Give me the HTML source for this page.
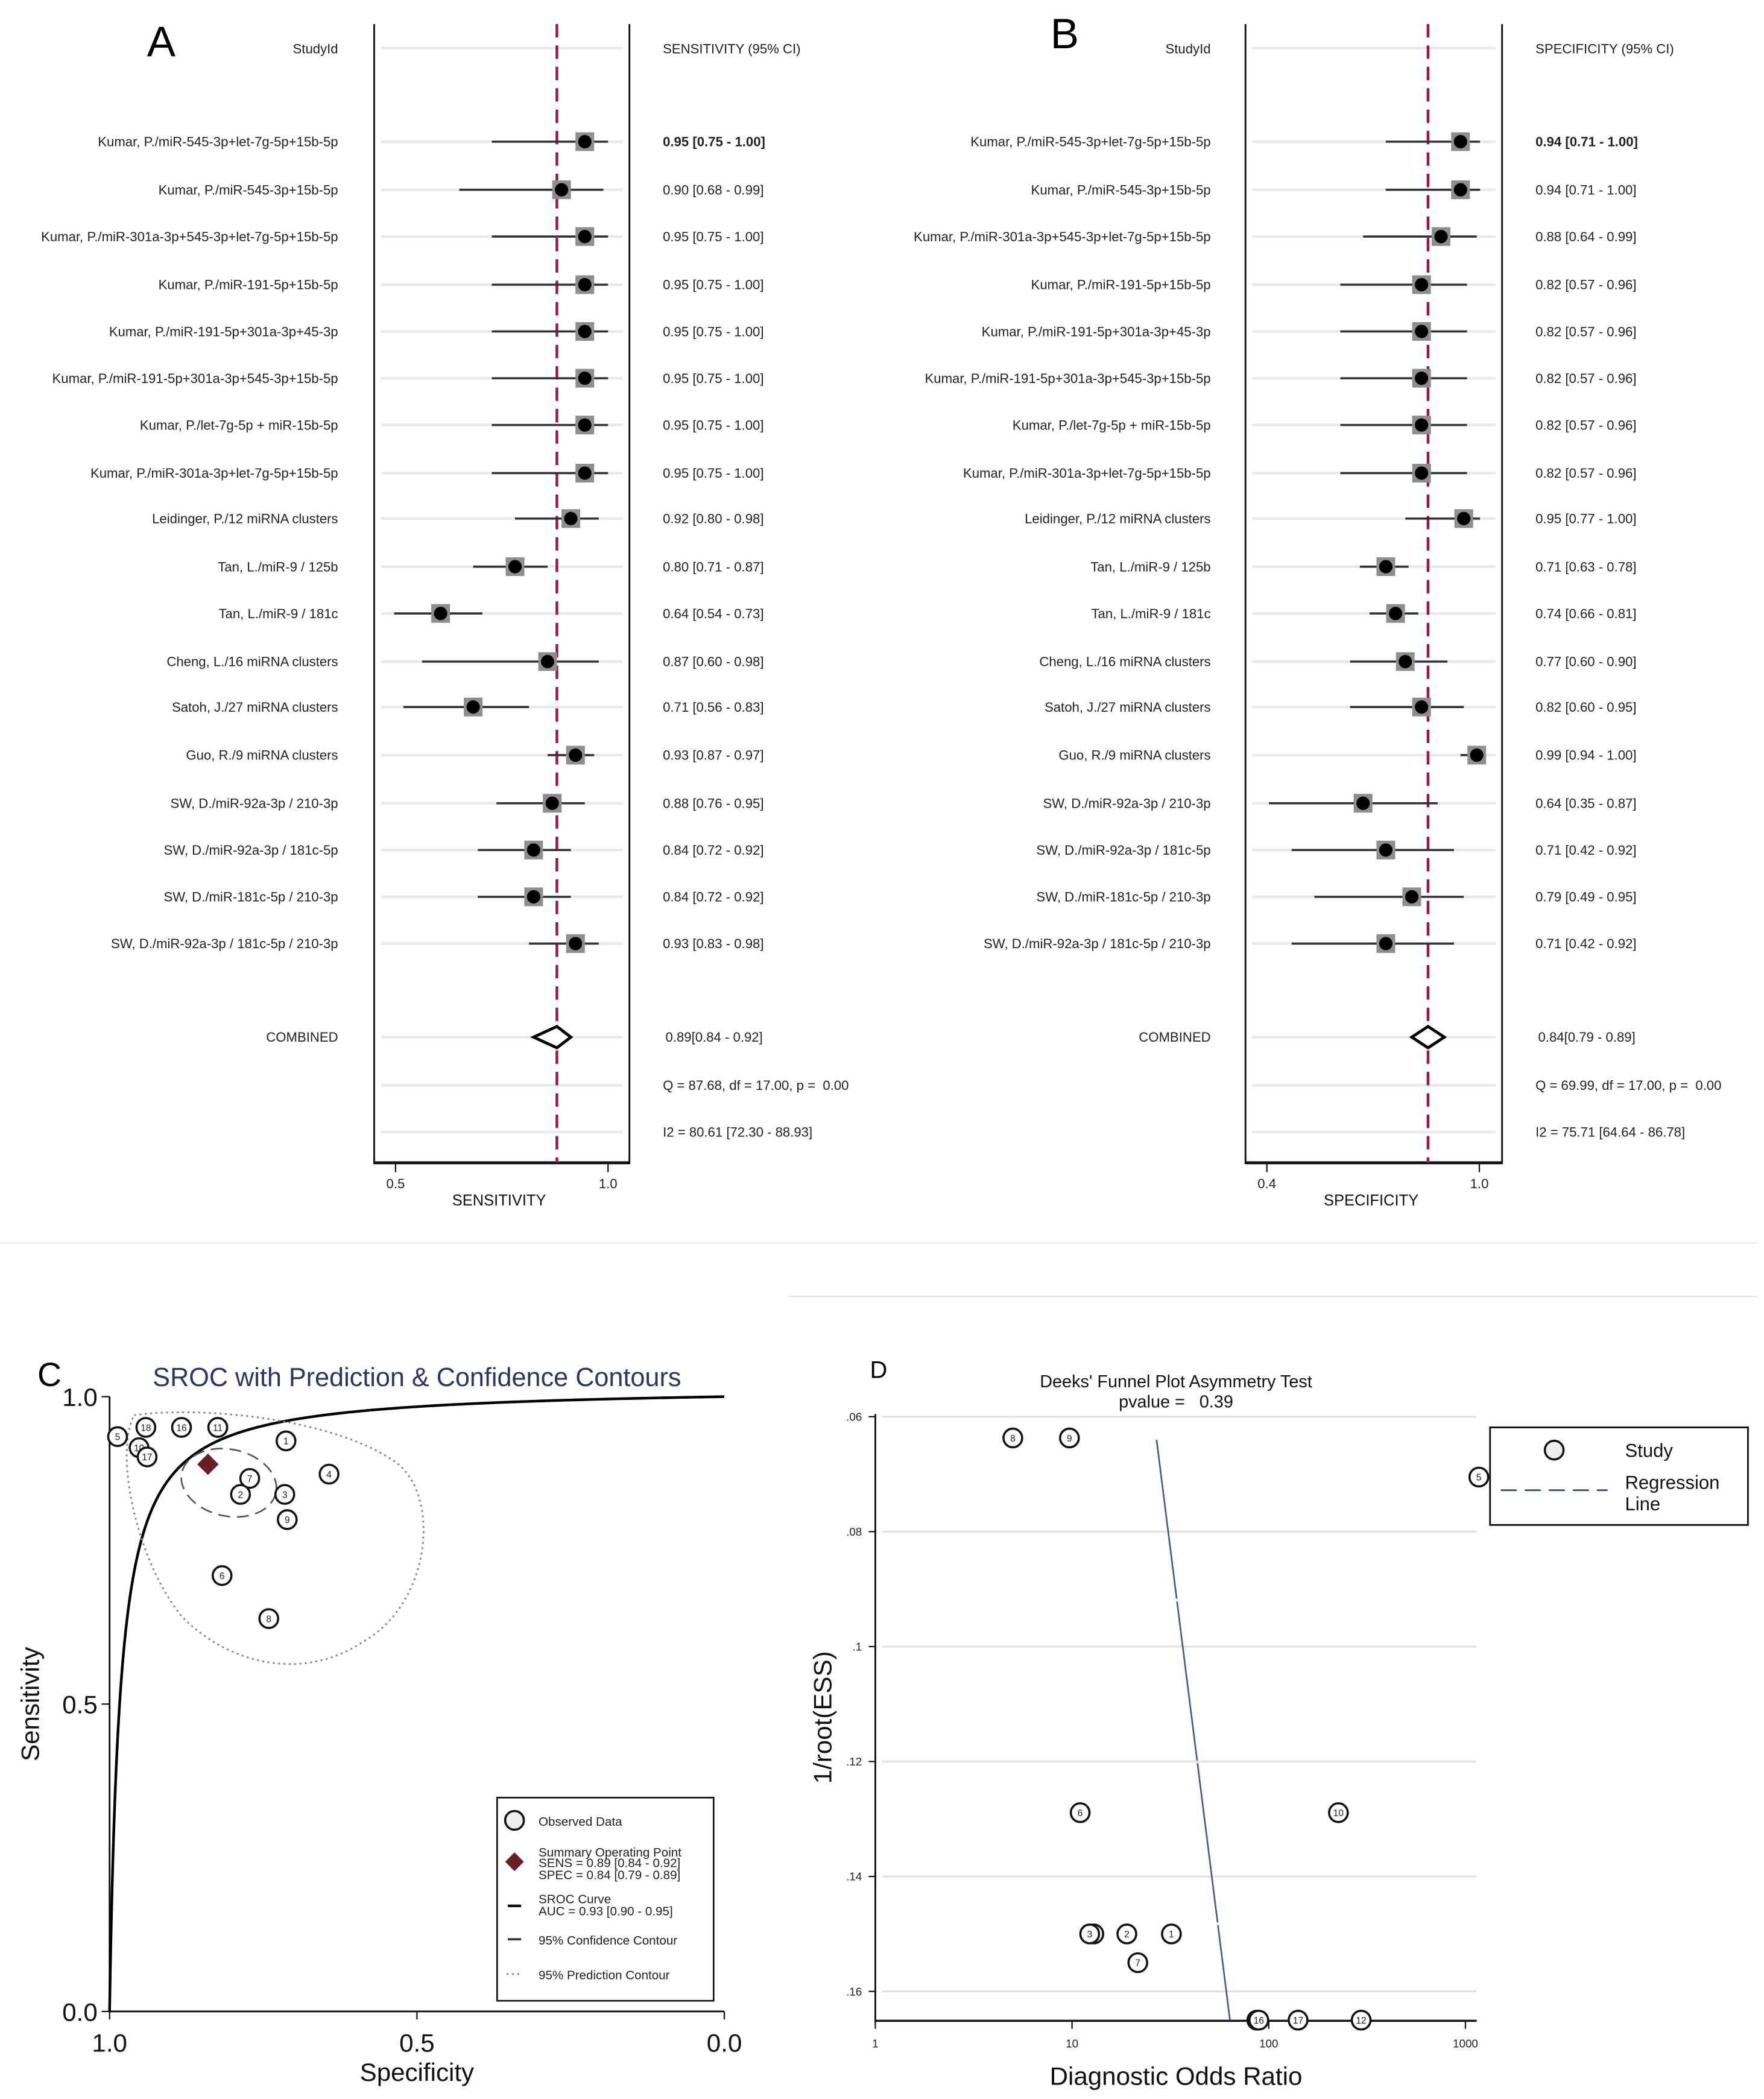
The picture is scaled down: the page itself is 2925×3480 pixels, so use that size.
<!DOCTYPE html>
<html><head><meta charset="utf-8"><style>
html,body{margin:0;padding:0;background:#fff;}
svg{display:block;}
text{font-family:"Liberation Sans Narrow","Liberation Sans",sans-serif;}
</style></head>
<body>
<svg id="fig" xmlns="http://www.w3.org/2000/svg" width="2925" height="3480" viewBox="0 0 1320 1570.5" preserveAspectRatio="none">
<rect x="0" y="0" width="1320" height="1571" fill="#fff"/>
<line x1="0" y1="930" x2="1315" y2="930" stroke="#eee" stroke-width="1"/>
<line x1="590" y1="970" x2="1315" y2="970" stroke="#e6e6e6" stroke-width="1"/>
<g id="pa"></g>
<g id="pb"></g>
<g id="pc"></g>
<g id="pd"></g>
</svg>
<script>
// ---------- Data ----------
const studyLabels = ["Kumar, P./miR-545-3p+let-7g-5p+15b-5p","Kumar, P./miR-545-3p+15b-5p","Kumar, P./miR-301a-3p+545-3p+let-7g-5p+15b-5p","Kumar, P./miR-191-5p+15b-5p","Kumar, P./miR-191-5p+301a-3p+45-3p","Kumar, P./miR-191-5p+301a-3p+545-3p+15b-5p","Kumar, P./let-7g-5p + miR-15b-5p","Kumar, P./miR-301a-3p+let-7g-5p+15b-5p","Leidinger, P./12 miRNA clusters","Tan, L./miR-9 / 125b","Tan, L./miR-9 / 181c","Cheng, L./16 miRNA clusters","Satoh, J./27 miRNA clusters","Guo, R./9 miRNA clusters","SW, D./miR-92a-3p / 210-3p","SW, D./miR-92a-3p / 181c-5p","SW, D./miR-181c-5p / 210-3p","SW, D./miR-92a-3p / 181c-5p / 210-3p"];
const sensEst = [0.95,0.90,0.95,0.95,0.95,0.95,0.95,0.95,0.92,0.80,0.64,0.87,0.71,0.93,0.88,0.84,0.84,0.93];
const sensLo  = [0.75,0.68,0.75,0.75,0.75,0.75,0.75,0.75,0.80,0.71,0.54,0.60,0.56,0.87,0.76,0.72,0.72,0.83];
const sensHi  = [1.00,0.99,1.00,1.00,1.00,1.00,1.00,1.00,0.98,0.87,0.73,0.98,0.83,0.97,0.95,0.92,0.92,0.98];
const specEst = [0.94,0.94,0.88,0.82,0.82,0.82,0.82,0.82,0.95,0.71,0.74,0.77,0.82,0.99,0.64,0.71,0.79,0.71];
const specLo  = [0.71,0.71,0.64,0.57,0.57,0.57,0.57,0.57,0.77,0.63,0.66,0.60,0.60,0.94,0.35,0.42,0.49,0.42];
const specHi  = [1.00,1.00,0.99,0.96,0.96,0.96,0.96,0.96,1.00,0.78,0.81,0.90,0.95,1.00,0.87,0.92,0.95,0.92];
const sensPooled = [0.89,0.84,0.92];
const specPooled = [0.84,0.79,0.89];
const sensStats = ["Q = 87.68, df = 17.00, p =  0.00","I2 = 80.61 [72.30 - 88.93]"];
const specStats = ["Q = 69.99, df = 17.00, p =  0.00","I2 = 75.71 [64.64 - 86.78]"];
// SROC observed points
const srocIds  = ["5","18","16","13","11","10","17","1","4","7","2","3","9","6","8"];
const srocSpec = [0.987,0.941,0.883,0.824,0.824,0.952,0.939,0.713,0.643,0.772,0.787,0.715,0.711,0.817,0.741];
const srocSens = [0.935,0.950,0.950,0.950,0.950,0.917,0.902,0.928,0.874,0.867,0.841,0.841,0.800,0.709,0.639];
const srocSummary = [0.84,0.89];
const srocSlope = 4.1;
// Deeks funnel points
const deeksIds = ["8","9","5","6","10","4","3","2","1","7","18","16","17","12"];
const deeksDOR = [5.0,9.7,1170,11,226,12.9,12.3,19,32,21.6,87,89,141,295];
const deeksESS = [0.0637,0.0637,0.0705,0.1289,0.1289,0.150,0.150,0.150,0.150,0.155,0.165,0.165,0.165,0.165];
const deeksReg = [[26.9,0.064],[63.5,0.165]];
const deeksYTicks = [0.06,0.08,0.10,0.12,0.14,0.16];
const deeksYTickLabels = [".06",".08",".1",".12",".14",".16"];
const deeksXTicks = [1,10,100,1000];

const NS="http://www.w3.org/2000/svg";
function mk(parent,tag,attrs,txt){const e=document.createElementNS(NS,tag);for(const k in attrs)e.setAttribute(k,attrs[k]);if(txt!==undefined)e.textContent=txt;parent.appendChild(e);return e;}

const rowY=[106,142,177,213,248,283,318,354,388,424,459,495,529,565,601,636,671,706];
function forest(g,opt){
  const sx=v=>opt.x0+(v-opt.v0)*opt.k;
  [36].concat(rowY,[776,812,847]).forEach(y=>{
    const l=mk(g,'line',{x1:opt.L+5,y1:y,x2:opt.R-5,y2:y,stroke:'#e6eaea','stroke-width':2});
    
    
  });
  mk(g,'line',{x1:opt.L,y1:18,x2:opt.L,y2:871,stroke:'#111','stroke-width':1.3});
  mk(g,'line',{x1:opt.R,y1:18,x2:opt.R,y2:871,stroke:'#111','stroke-width':1.3});
  mk(g,'line',{x1:opt.L,y1:870,x2:opt.R,y2:870,stroke:'#111','stroke-width':2.2});
  opt.ticks.forEach((t,i)=>{
    mk(g,'line',{x1:t[0],y1:870,x2:t[0],y2:877,stroke:'#111','stroke-width':1});
    const tl=mk(g,'text',{x:t[0],y:889,'font-size':10,'text-anchor':'middle',fill:'#222'},t[1]);
    
    
  });
  const xt=mk(g,'text',{x:(opt.L+opt.R)/2-2,y:902,'font-size':11.5,'text-anchor':'middle',fill:'#111'},opt.title);
  
  
  const rl=mk(g,'line',{x1:sx(opt.pooled[0]),y1:18,x2:sx(opt.pooled[0]),y2:870,stroke:'#a0143c','stroke-width':2,'stroke-dasharray':'10,6'});
  
  
  const pl=mk(g,'text',{x:opt.lab,y:40,'font-size':10,'text-anchor':'end',fill:'#222'},'StudyId');
  
  
  const ph=mk(g,'text',{x:opt.val,y:40,'font-size':10,fill:'#222'},opt.header);
  
  
  opt.est.forEach((v,i)=>{
    const y=rowY[i];
    const t=mk(g,'text',{x:opt.lab,y:y+3.5,'font-size':10,'text-anchor':'end',fill:'#222'},studyLabels[i]);
    
    
    const ci=mk(g,'line',{x1:sx(opt.lo[i]),y1:y,x2:sx(opt.hi[i]),y2:y,stroke:'#333','stroke-width':1.6});
    
    
    const b=mk(g,'rect',{x:sx(v)-7,y:y-7,width:14,height:14,fill:'#8e8e8e'});
    
    
    const d=mk(g,'circle',{cx:sx(v),cy:y,r:5,fill:'#000'});
    
    
    const vt=mk(g,'text',{x:opt.val,y:y+3.5,'font-size':10,fill:'#222','font-weight':i===0?'bold':'normal'},v.toFixed(2)+' ['+opt.lo[i].toFixed(2)+' - '+opt.hi[i].toFixed(2)+']');
    
    
  });
  const ct=mk(g,'text',{x:opt.lab,y:779.5,'font-size':10,'text-anchor':'end',fill:'#222'},'COMBINED');
  
  
  const p=opt.pooled;
  const dm=mk(g,'polygon',{points:`${sx(p[1])},776 ${sx(p[0])},768 ${sx(p[2])},776 ${sx(p[0])},784`,fill:'#fff',stroke:'#000','stroke-width':2.2});
  
  
  const cv=mk(g,'text',{x:opt.val+2,y:779.5,'font-size':10,fill:'#222'},p[0].toFixed(2)+'['+p[1].toFixed(2)+' - '+p[2].toFixed(2)+']');
  
  
  const q=mk(g,'text',{x:opt.val,y:815.5,'font-size':10,fill:'#222',style:'white-space:pre'},opt.stats[0]);
  
  
  const i2=mk(g,'text',{x:opt.val,y:850.5,'font-size':10,fill:'#222'},opt.stats[1]);
  
  
  const pl2=mk(g,'text',{x:opt.letterX,y:opt.letterY,'font-size':32,fill:'#000','font-family':'Liberation Sans, sans-serif'},opt.letter);
  
  
}
forest(document.getElementById('pa'),{L:280,R:471,x0:281,v0:0.5,k:348,ticks:[[296,'0.5'],[455,'1.0']],title:'SENSITIVITY',header:'SENSITIVITY (95% CI)',est:sensEst,lo:sensLo,hi:sensHi,pooled:sensPooled,stats:sensStats,lab:253,val:496,letter:'A',letterX:110,letterY:42});
forest(document.getElementById('pb'),{L:932,R:1124,x0:1020,v0:0.64,k:243,ticks:[[948,'0.4'],[1107,'1.0']],title:'SPECIFICITY',header:'SPECIFICITY (95% CI)',est:specEst,lo:specLo,hi:specHi,pooled:specPooled,stats:specStats,lab:906,val:1149,letter:'B',letterX:786,letterY:36});

// ---------- Panel C ----------
(function(){
  const g=document.getElementById('pc');
  const X=s=>82+(1-s)*460, Y=v=>1505-v*460;
  const t=mk(g,'text',{x:28,y:1037,'font-size':25,fill:'#000','font-family':'Liberation Sans, sans-serif'},'C');
  
  
  const ti=mk(g,'text',{x:312,y:1037,'font-size':19.5,'text-anchor':'middle',fill:'#2c3563','font-family':'Liberation Sans, sans-serif'},'SROC with Prediction & Confidence Contours');
  
  
  mk(g,'line',{x1:82,y1:1045,x2:82,y2:1506,stroke:'#111','stroke-width':1.3});
  mk(g,'line',{x1:82,y1:1505,x2:542,y2:1505,stroke:'#111','stroke-width':1.3});
  [[1,'1.0'],[0.5,'0.5'],[0,'0.0']].forEach(tk=>{
    mk(g,'line',{x1:76,y1:Y(tk[0]),x2:82,y2:Y(tk[0]),stroke:'#111'});
    const l=mk(g,'text',{x:73,y:Y(tk[0])+7,'font-size':19,'text-anchor':'end',fill:'#111','font-family':'Liberation Sans, sans-serif'},tk[1]);
    
    
    mk(g,'line',{x1:X(tk[0]),y1:1505,x2:X(tk[0]),y2:1511,stroke:'#111'});
    const m=mk(g,'text',{x:X(tk[0]),y:1535,'font-size':19,'text-anchor':'middle',fill:'#111','font-family':'Liberation Sans, sans-serif'},tk[1]);
    
    
  });
  const yl=mk(g,'text',{x:0,y:0,'font-size':19,'text-anchor':'middle',fill:'#111',transform:'translate(29,1275) rotate(-90)','font-family':'Liberation Sans, sans-serif'},'Sensitivity');
  
  
  const xl=mk(g,'text',{x:312,y:1557,'font-size':19,'text-anchor':'middle',fill:'#111','font-family':'Liberation Sans, sans-serif'},'Specificity');
  
  
  let d='';
  for(let i=0;i<=400;i++){const f=Math.pow(i/400,2.2);const fpr=Math.max(f,1e-5);const lg=Math.log(fpr/(1-fpr))+srocSlope;const s=fpr>=1?1:1/(1+Math.exp(-lg));d+=(i?'L':'M')+X(1-fpr).toFixed(2)+','+Y(i===0?0:s).toFixed(2);}
  const cu=mk(g,'path',{d:d,fill:'none',stroke:'#000','stroke-width':2});
  
  
  const pc=mk(g,'path',{d:`M${X(0.96)},${Y(0.97)} C${X(0.85)},${Y(0.985)} ${X(0.63)},${Y(0.965)} ${X(0.53)},${Y(0.89)} C${X(0.46)},${Y(0.83)} ${X(0.48)},${Y(0.66)} ${X(0.59)},${Y(0.6)} C${X(0.68)},${Y(0.54)} ${X(0.8)},${Y(0.56)} ${X(0.88)},${Y(0.64)} C${X(0.95)},${Y(0.72)} ${X(0.995)},${Y(0.9)} ${X(0.96)},${Y(0.97)} Z`,fill:'none',stroke:'#888','stroke-width':1.3,'stroke-dasharray':'1.5,2.5'});
  
  
  const cc=mk(g,'ellipse',{cx:X(0.806),cy:Y(0.86),rx:36,ry:25,transform:`rotate(12 ${X(0.806)} ${Y(0.86)})`,fill:'none',stroke:'#555','stroke-width':1.2,'stroke-dasharray':'9,5'});
  
  
  srocIds.forEach((id,i)=>{
    const c=mk(g,'circle',{cx:X(srocSpec[i]),cy:Y(srocSens[i]),r:7,fill:'#fff',stroke:'#111','stroke-width':1.6});
    
    
    const l=mk(g,'text',{x:X(srocSpec[i]),y:Y(srocSens[i])+2.6,'font-size':7,'text-anchor':'middle',fill:'#222','font-family':'Liberation Sans, sans-serif'},id);
    
    
  });
  const sx=X(srocSummary[0]), sy=Y(srocSummary[1]);
  const dm=mk(g,'polygon',{points:`${sx},${sy-8} ${sx+8},${sy} ${sx},${sy+8} ${sx-8},${sy}`,fill:'#6b1f25'});
  
  
  const lg=mk(g,'g',{});
  
  
  mk(lg,'rect',{x:372,y:1345,width:162,height:152,fill:'#fff',stroke:'#111','stroke-width':1.2});
  mk(lg,'circle',{cx:385,cy:1362,r:7,fill:'#eee',stroke:'#111','stroke-width':1.6});
  mk(lg,'polygon',{points:'385,1386 392,1393 385,1400 378,1393',fill:'#6b1f25'});
  mk(lg,'line',{x1:380,y1:1426,x2:390,y2:1426,stroke:'#111','stroke-width':2});
  mk(lg,'line',{x1:380,y1:1451,x2:390,y2:1451,stroke:'#333','stroke-width':1.6});
  mk(lg,'line',{x1:379,y1:1477,x2:391,y2:1477,stroke:'#888','stroke-width':1.3,'stroke-dasharray':'1.5,2.5'});
  [[1366,'Observed Data'],[1389,'Summary Operating Point'],[1397,'SENS = 0.89 [0.84 - 0.92]'],[1406,'SPEC = 0.84 [0.79 - 0.89]'],[1424,'SROC Curve'],[1433,'AUC = 0.93 [0.90 - 0.95]'],[1455,'95% Confidence Contour'],[1481,'95% Prediction Contour']].forEach(r=>{
    const t=mk(lg,'text',{x:403,y:r[0],'font-size':9.3,fill:'#222','font-family':'Liberation Sans, sans-serif'},r[1]);
    
    
  });
})();

// ---------- Panel D ----------
(function(){
  const g=document.getElementById('pd');
  const X=v=>655+Math.log10(v)*147.2, Y=v=>1060+(v-0.06)*4300;
  const L=mk(g,'text',{x:651,y:1031,'font-size':18,fill:'#000','font-family':'Liberation Sans, sans-serif'},'D');
  
  
  const t1=mk(g,'text',{x:880,y:1038,'font-size':13,'text-anchor':'middle',fill:'#111','font-family':'Liberation Sans, sans-serif'},"Deeks' Funnel Plot Asymmetry Test");
  
  
  const t2=mk(g,'text',{x:880,y:1053,'font-size':13,'text-anchor':'middle',fill:'#111','font-family':'Liberation Sans, sans-serif',style:'white-space:pre'},'pvalue =   0.39');
  
  
  deeksYTicks.forEach((v,i)=>{
    const gl=mk(g,'line',{x1:660,y1:Y(v),x2:1105,y2:Y(v),stroke:'#e3e3e3','stroke-width':1.5});
    
    
    mk(g,'line',{x1:650,y1:Y(v),x2:655,y2:Y(v),stroke:'#111'});
    const tl=mk(g,'text',{x:645,y:Y(v)+3,'font-size':8.5,'text-anchor':'end',fill:'#222','font-family':'Liberation Sans, sans-serif'},deeksYTickLabels[i]);
    
    
  });
  mk(g,'line',{x1:655,y1:1058,x2:655,y2:1513,stroke:'#111','stroke-width':1.3});
  mk(g,'line',{x1:655,y1:1512,x2:1105,y2:1512,stroke:'#111','stroke-width':1.6});
  deeksXTicks.forEach(v=>{
    mk(g,'line',{x1:X(v),y1:1512,x2:X(v),y2:1518,stroke:'#111'});
    const tl=mk(g,'text',{x:X(v),y:1532,'font-size':8.5,'text-anchor':'middle',fill:'#222','font-family':'Liberation Sans, sans-serif'},String(v));
    
    
  });
  const yl=mk(g,'text',{x:0,y:0,'font-size':19,'text-anchor':'middle',fill:'#111',transform:'translate(622,1285) rotate(-90)','font-family':'Liberation Sans, sans-serif'},'1/root(ESS)');
  
  
  const xl=mk(g,'text',{x:880,y:1560,'font-size':19,'text-anchor':'middle',fill:'#111','font-family':'Liberation Sans, sans-serif'},'Diagnostic Odds Ratio');
  
  
  const rg=mk(g,'line',{x1:X(deeksReg[0][0]),y1:Y(deeksReg[0][1]),x2:X(deeksReg[1][0]),y2:Y(deeksReg[1][1]),stroke:'#4a5a88','stroke-width':1.2,'stroke-dasharray':'120,2'});
  
  
  deeksIds.forEach((id,i)=>{
    const c=mk(g,'circle',{cx:X(deeksDOR[i]),cy:Y(deeksESS[i]),r:7,fill:'#fff',stroke:'#111','stroke-width':1.6});
    
    
    const l=mk(g,'text',{x:X(deeksDOR[i]),y:Y(deeksESS[i])+2.6,'font-size':7,'text-anchor':'middle',fill:'#222','font-family':'Liberation Sans, sans-serif'},id);
    
    
  });
  const lg=mk(g,'g',{});
  
  
  mk(lg,'rect',{x:1115,y:1068,width:193,height:73,fill:'#fff',stroke:'#111','stroke-width':1.3});
  mk(lg,'circle',{cx:1163,cy:1085,r:7,fill:'#eee',stroke:'#111','stroke-width':1.6});
  mk(lg,'line',{x1:1123,y1:1115,x2:1203,y2:1115,stroke:'#3b4f7d','stroke-width':1.3,'stroke-dasharray':'12,6'});
  [[1090,'Study'],[1114,'Regression'],[1130,'Line']].forEach(r=>{
    const t=mk(lg,'text',{x:1216,y:r[0],'font-size':14,fill:'#111','font-family':'Liberation Sans, sans-serif'},r[1]);
    
    
  });
})();
</script>
</body></html>
